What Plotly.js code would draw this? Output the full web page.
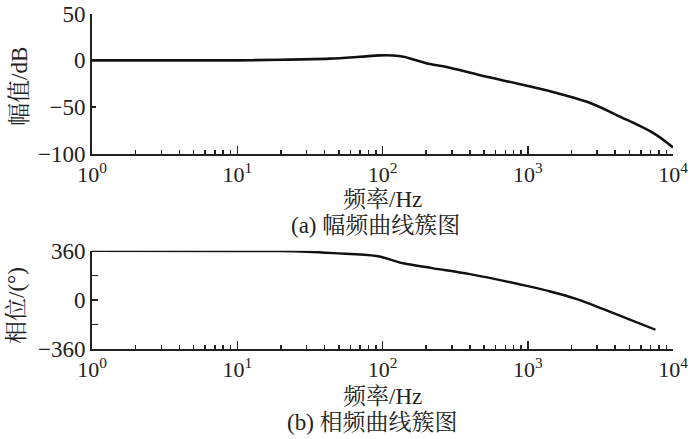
<!DOCTYPE html>
<html>
<head>
<meta charset="utf-8">
<script src="https://cdn.plot.ly/plotly-3.0.1.min.js"></script>
<style>html,body{margin:0;padding:0;background:#fff;}#chart{width:700px;height:439px;}</style>
</head>
<body>
<div id="chart"></div>
<script>
// Amplitude-frequency data
const ampFreq = [1, 5, 10, 20, 43, 70, 96, 118, 140, 163, 213, 277, 471, 888, 1507, 2560, 4346, 7380, 10000];
const ampDb   = [0, 0, 0, 0.6, 1.8, 3.8, 5.3, 5.2, 3.8, 1.0, -4.0, -7.1, -16, -25.5, -34, -44.3, -60.3, -78, -93];
// Phase-frequency data
const phaseFreq = [1, 12, 20, 30, 46, 91, 139, 224, 400, 983, 1429, 2180, 3320, 5100, 7580];
const phaseDeg  = [360, 358, 357, 352, 342, 321, 268, 231, 188, 102, 61, 5, -68, -146, -219];
// Tick labels
const xTickVals = [1, 10, 100, 1000, 10000];
const xTickText = ['10<sup>0</sup>', '10<sup>1</sup>', '10<sup>2</sup>', '10<sup>3</sup>', '10<sup>4</sup>'];
const ampTickVals = [50, 0, -50, -100];
const phaseTickVals = [360, 180, 0, -180, -360];
const phaseTickText = ['360', '', '0', '', '\u2212360'];
const xTitle = '频率/Hz';
const ampTitle = '幅值/dB';
const phaseTitle = '相位/(°)';
const capA = '(a) 幅频曲线簇图';
const capB = '(b) 相频曲线簇图';

const minorVals = [];
for (let d = 0; d < 4; d++) for (let k = 2; k <= 9; k++) minorVals.push(k * Math.pow(10, d));

const FONT = 'Liberation Serif, Times New Roman, Noto Serif CJK SC, Noto Sans CJK SC, serif';
const AX = '#222';
const FS = 23;
const W = 700, H = 439, L = 92, R = 27;
const px = x => (x - L) / (W - L - R);
const py = y => 1 - y / H;

function xax(anchor) {
  return {
    type: 'log', range: [0, 4], anchor: anchor,
    showline: true, linecolor: AX, linewidth: 2, mirror: false,
    ticks: 'inside', ticklen: 8, tickwidth: 1.5, tickcolor: AX,
    tickmode: 'array', tickvals: xTickVals, ticktext: xTickText,
    minor: {ticks: 'inside', ticklen: 4, tickwidth: 1.5, tickcolor: AX, tickmode: 'array', tickvals: minorVals},
    showgrid: false, zeroline: false,
    tickfont: {family: FONT, size: 22, color: AX}
  };
}

const data = [
  {x: ampFreq, y: ampDb, type: 'scatter', mode: 'lines', xaxis: 'x', yaxis: 'y',
   line: {color: '#111', width: 2.6, shape: 'spline', smoothing: 1}},
  {x: phaseFreq, y: phaseDeg, type: 'scatter', mode: 'lines', xaxis: 'x2', yaxis: 'y2',
   line: {color: '#111', width: 2.4, shape: 'spline', smoothing: 1}}
];

const layout = {
  width: W, height: H,
  margin: {l: L, r: R, t: 0, b: 0},
  paper_bgcolor: '#fff', plot_bgcolor: '#fff',
  showlegend: false,
  xaxis: Object.assign(xax('y'), {domain: [0, 1]}),
  xaxis2: Object.assign(xax('y2'), {domain: [0, 1]}),
  yaxis: {
    domain: [py(154), py(13.5)], range: [-100, 50], anchor: 'x',
    showline: true, linecolor: AX, linewidth: 2,
    ticks: 'inside', ticklen: 4, tickwidth: 1.5, tickcolor: AX,
    tickmode: 'array', tickvals: ampTickVals,
    showgrid: false, zeroline: false,
    tickfont: {family: FONT, size: FS, color: AX}
  },
  yaxis2: {
    domain: [py(349), py(250.7)], range: [-360, 360], anchor: 'x2',
    showline: true, linecolor: AX, linewidth: 2,
    ticks: 'inside', ticklen: 6, tickwidth: 1.5, tickcolor: AX,
    tickmode: 'array', tickvals: phaseTickVals, ticktext: phaseTickText,
    showgrid: false, zeroline: false,
    tickfont: {family: FONT, size: FS, color: AX}
  },
  annotations: [
    {text: xTitle, xref: 'paper', yref: 'paper', x: px(382), y: py(199), showarrow: false,
     font: {family: FONT, size: FS, color: AX}, xanchor: 'center', yanchor: 'middle'},
    {text: capA, xref: 'paper', yref: 'paper', x: px(375), y: py(225), showarrow: false,
     font: {family: FONT, size: FS, color: AX}, xanchor: 'center', yanchor: 'middle'},
    {text: xTitle, xref: 'paper', yref: 'paper', x: px(382), y: py(396), showarrow: false,
     font: {family: FONT, size: FS, color: AX}, xanchor: 'center', yanchor: 'middle'},
    {text: capB, xref: 'paper', yref: 'paper', x: px(372), y: py(422), showarrow: false,
     font: {family: FONT, size: FS, color: AX}, xanchor: 'center', yanchor: 'middle'},
    {text: ampTitle, xref: 'paper', yref: 'paper', x: px(19), y: py(87), showarrow: false, textangle: -90,
     font: {family: FONT, size: FS, color: AX}, xanchor: 'center', yanchor: 'middle'},
    {text: phaseTitle, xref: 'paper', yref: 'paper', x: px(16), y: py(306), showarrow: false, textangle: -90,
     font: {family: FONT, size: FS, color: AX}, xanchor: 'center', yanchor: 'middle'}
  ]
};

Plotly.newPlot('chart', data, layout, {staticPlot: true, displayModeBar: false});
</script>
</body>
</html>
